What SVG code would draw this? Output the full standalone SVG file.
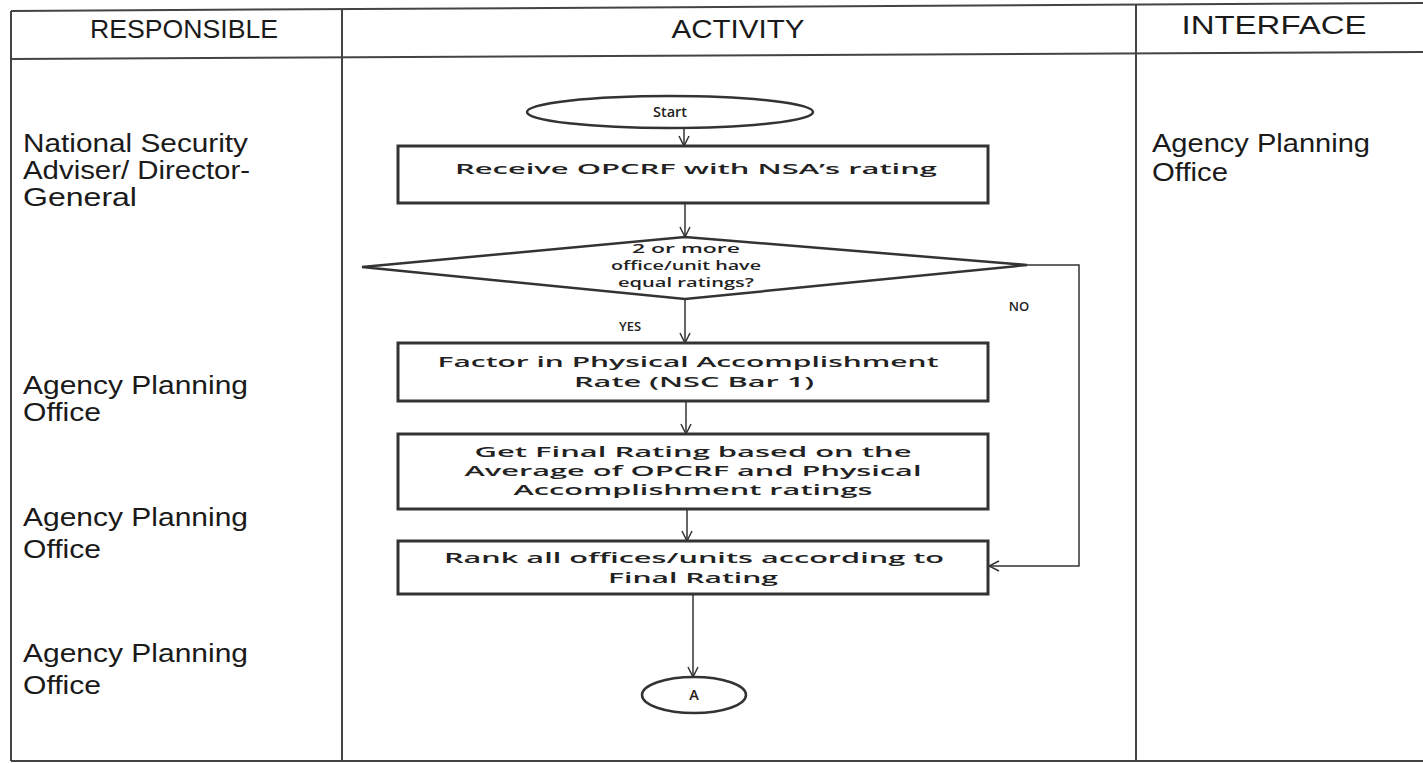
<svg xmlns="http://www.w3.org/2000/svg" width="1423" height="763" viewBox="0 0 1423 763">
<style>
.grid{stroke:#444;stroke-width:2;fill:none}
.hdr{font-family:"Liberation Sans",Arial,sans-serif;font-size:26px;fill:#1a1a1a;text-anchor:middle}
.lbl{font-family:"Liberation Sans",Arial,sans-serif;font-size:25px;fill:#1a1a1a}
.box{fill:#fff;stroke:#333;stroke-width:3}
.term{fill:#fff;stroke:#333;stroke-width:2.5}
.bt{font-family:"Open Sans","DejaVu Sans",sans-serif;font-size:14.5px;font-weight:600;fill:#222;text-anchor:middle}
.dt{font-family:"Open Sans","DejaVu Sans",sans-serif;font-size:13px;font-weight:600;fill:#222;text-anchor:middle}
.sm{font-family:"Open Sans","DejaVu Sans",sans-serif;font-size:13px;font-weight:600;fill:#222;text-anchor:middle}
.con{stroke:#333;stroke-width:1.5;fill:none}
</style>
<defs>
<marker id="arr" viewBox="0 0 12 12" refX="11" refY="6" markerWidth="12" markerHeight="12" markerUnits="userSpaceOnUse" orient="auto">
<path d="M1,1 L11,6 L1,11" fill="none" stroke="#333" stroke-width="1.5"/>
</marker>
</defs>
<rect width="1423" height="763" fill="#fff"/>
<g id="table">
<path class="grid" d="M11,11 L1423,3"/>
<path class="grid" d="M11,59 L1423,52"/>
<path class="grid" d="M11,761 L1423,761"/>
<path class="grid" d="M11,11 V761"/>
<path class="grid" d="M342,10 V761"/>
<path class="grid" d="M1136,5 V761"/>
<text class="hdr" x="184" y="38" textLength="188" lengthAdjust="spacingAndGlyphs">RESPONSIBLE</text>
<text class="hdr" x="738" y="38" textLength="133" lengthAdjust="spacingAndGlyphs">ACTIVITY</text>
<text class="hdr" x="1274" y="34" textLength="185" lengthAdjust="spacingAndGlyphs">INTERFACE</text>
</g>
<g id="responsible">
<text class="lbl" x="23" y="152" textLength="225" lengthAdjust="spacingAndGlyphs">National Security</text>
<text class="lbl" x="23" y="179" textLength="227" lengthAdjust="spacingAndGlyphs">Adviser/ Director-</text>
<text class="lbl" x="23" y="206" textLength="114" lengthAdjust="spacingAndGlyphs">General</text>
<text class="lbl" x="23" y="394" textLength="225" lengthAdjust="spacingAndGlyphs">Agency Planning</text>
<text class="lbl" x="23" y="421" textLength="78" lengthAdjust="spacingAndGlyphs">Office</text>
<text class="lbl" x="23" y="526" textLength="225" lengthAdjust="spacingAndGlyphs">Agency Planning</text>
<text class="lbl" x="23" y="558" textLength="78" lengthAdjust="spacingAndGlyphs">Office</text>
<text class="lbl" x="23" y="662" textLength="225" lengthAdjust="spacingAndGlyphs">Agency Planning</text>
<text class="lbl" x="23" y="694" textLength="78" lengthAdjust="spacingAndGlyphs">Office</text>
</g>
<g id="interface">
<text class="lbl" x="1152" y="152" textLength="218" lengthAdjust="spacingAndGlyphs">Agency Planning</text>
<text class="lbl" x="1152" y="181" textLength="76" lengthAdjust="spacingAndGlyphs">Office</text>
</g>
<g id="connectors">
<path class="con" d="M684,128 V146" marker-end="url(#arr)"/>
<path class="con" d="M685,203 V237" marker-end="url(#arr)"/>
<path class="con" d="M685,299 V343" marker-end="url(#arr)"/>
<path class="con" d="M686,401 V434" marker-end="url(#arr)"/>
<path class="con" d="M687,509 V541" marker-end="url(#arr)"/>
<path class="con" d="M693,594 V677" marker-end="url(#arr)"/>
<path class="con" d="M1027,265 H1079 V566 H989" marker-end="url(#arr)"/>
<text class="sm" x="630" y="331">YES</text>
<text class="sm" x="1019" y="311">NO</text>
</g>
<g id="start">
<ellipse class="term" cx="670" cy="112" rx="143" ry="16"/>
<text class="bt" x="670" y="117">Start</text>
</g>
<g id="receive">
<rect class="box" x="398" y="146" width="590" height="57"/>
<text class="bt" x="696" y="174" textLength="482" lengthAdjust="spacingAndGlyphs">Receive OPCRF with NSA’s rating</text>
</g>
<g id="decision">
<polygon class="term" points="362,267 685,237 1027,265 685,299"/>
<text class="dt" x="686" y="253" textLength="108" lengthAdjust="spacingAndGlyphs">2 or more</text>
<text class="dt" x="686" y="270" textLength="150" lengthAdjust="spacingAndGlyphs">office/unit have</text>
<text class="dt" x="686" y="287" textLength="136" lengthAdjust="spacingAndGlyphs">equal ratings?</text>
</g>
<g id="factor">
<rect class="box" x="398" y="343" width="590" height="58"/>
<text class="bt" x="688" y="367" textLength="501" lengthAdjust="spacingAndGlyphs">Factor in Physical Accomplishment</text>
<text class="bt" x="694" y="387" textLength="240" lengthAdjust="spacingAndGlyphs">Rate (NSC Bar 1)</text>
</g>
<g id="final">
<rect class="box" x="398" y="434" width="590" height="75"/>
<text class="bt" x="693" y="457" textLength="437" lengthAdjust="spacingAndGlyphs">Get Final Rating based on the</text>
<text class="bt" x="693" y="476" textLength="457" lengthAdjust="spacingAndGlyphs">Average of OPCRF and Physical</text>
<text class="bt" x="693" y="495" textLength="359" lengthAdjust="spacingAndGlyphs">Accomplishment ratings</text>
</g>
<g id="rank">
<rect class="box" x="398" y="541" width="590" height="53"/>
<text class="bt" x="694" y="563" textLength="500" lengthAdjust="spacingAndGlyphs">Rank all offices/units according to</text>
<text class="bt" x="693" y="583" textLength="170" lengthAdjust="spacingAndGlyphs">Final Rating</text>
</g>
<g id="connectorA">
<ellipse class="term" cx="694" cy="695" rx="52" ry="18"/>
<text class="bt" x="694" y="700">A</text>
</g>
</svg>
